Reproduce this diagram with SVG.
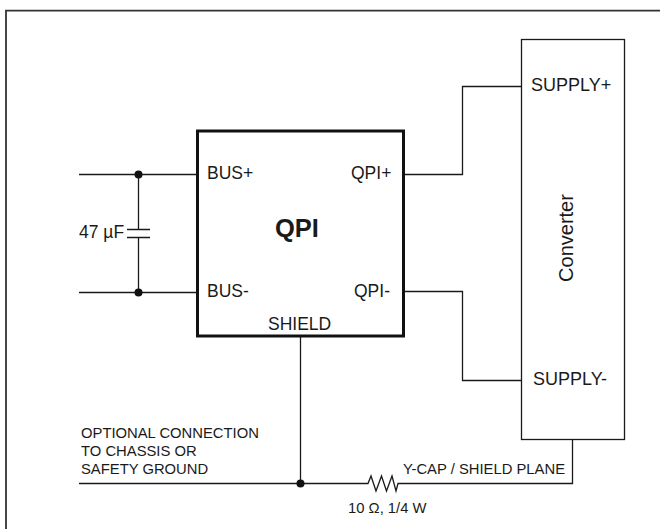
<svg xmlns="http://www.w3.org/2000/svg" width="660" height="529" viewBox="0 0 660 529">
<style>
text{font-family:"Liberation Sans",Arial,sans-serif;fill:#1a1a1a}
.l{font-size:17.5px}
.p{font-size:18px}
.c{font-size:20px}
.s{font-size:14.8px}
.w{fill:none;stroke:#1a1a1a;stroke-width:1.3}
.d{fill:#111}
</style>
<rect width="660" height="529" fill="#fff"/>
<path id="frame" d="M6 529V10.700H660" fill="none" stroke="#333" stroke-width="1.8"/>
<g id="connectors">
<path class="w" d="M79 174.500H197M79 292.500H197M138.500 174.500V229.500M138.500 237.500V292.500M127 229.500H150M127 237.500H150"/>
<path class="w" d="M404 174.500H462.500V86.500H522M404 291.500H462.500V380.500H522"/>
<path class="w" d="M300.500 337V483.500M79 483.500H368L371 476L376 491L381.500 476L386.500 491L392 476L396 491L398 483.500H572.500V439"/>
<circle class="d" cx="138.500" cy="174.500" r="4"/>
<circle class="d" cx="138.500" cy="292.500" r="4"/>
<circle class="d" cx="300.500" cy="483.500" r="4"/>
</g>
<g id="qpi">
<rect x="197.500" y="131" width="206" height="205" fill="#fff" stroke="#111" stroke-width="3"/>
<text x="297" y="237" text-anchor="middle" font-size="25.500" font-weight="700">QPI</text>
<text class="l" x="207" y="179">BUS+</text>
<text class="l" x="207" y="297">BUS-</text>
<text class="l" x="351" y="179">QPI+</text>
<text class="l" x="354" y="297">QPI-</text>
<text class="l" x="268" y="330">SHIELD</text>
</g>
<g id="converter">
<rect x="521.500" y="39.500" width="103" height="400" fill="#fff" stroke="#1a1a1a" stroke-width="1.3"/>
<text class="p" x="531" y="91">SUPPLY+</text>
<text class="p" x="533" y="385">SUPPLY-</text>
<text class="c" transform="translate(573 238) rotate(-90)" text-anchor="middle">Converter</text>
</g>
<g id="labels">
<text class="l" x="79" y="238">47 µF</text>
<text class="s" x="81" y="438">OPTIONAL CONNECTION</text>
<text class="s" x="81" y="456">TO CHASSIS OR</text>
<text class="s" x="81" y="474">SAFETY GROUND</text>
<text class="s" x="403" y="474">Y-CAP / SHIELD PLANE</text>
<text class="s" x="348" y="513">10 Ω, 1/4 W</text>
</g>
</svg>
